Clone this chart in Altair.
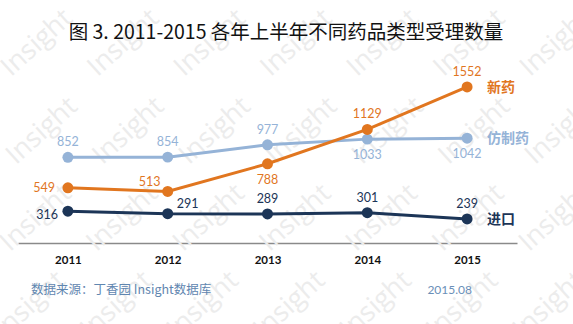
import altair as alt
import pandas as pd

# --- data -----------------------------------------------------------------
years = ["2011", "2012", "2013", "2014", "2015"]
generic = [852, 854, 977, 1033, 1042]      # 仿制药
new_drug = [549, 513, 788, 1129, 1552]     # 新药
imported = [316, 291, 289, 301, 239]       # 进口

series_names = ["仿制药", "新药", "进口"]
series_values = [generic, new_drug, imported]
series_colors = ["#95B3D7", "#E1761F", "#1C3557"]
label_colors = ["#8EADD3", "#D6772A", "#23344F"]

# where each value label sits relative to its point
label_side = [
    ["above", "above", "above", "below", "below"],
    ["left", "upleft", "below", "above", "above"],
    ["leftdown", "upright", "above", "above", "above"],
]

title_text = "图 3. 2011-2015 各年上半年不同药品类型受理数量"
source_text = "数据来源：丁香园 Insight数据库"
date_text = "2015.08"

rows = []
for name, vals, sides in zip(series_names, series_values, label_side):
    for yr, v, s in zip(years, vals, sides):
        rows.append({"year": yr, "value": v, "series": name, "side": s})
df = pd.DataFrame(rows)
last = df[df["year"] == years[-1]]

W, H = 499, 181
CJK = "Noto Sans CJK SC"
NUM = "Lato"

x_enc = alt.X("year:N", scale=alt.Scale(type="point", padding=0.5),
              axis=alt.Axis(title=None, ticks=False, domainColor="#8a8a8a",
                            domainWidth=1.5, labelFontSize=11.5, labelFont=NUM,
                            labelFontWeight="bold", labelColor="#111111",
                            labelPadding=11, labelAngle=0))
y_enc = alt.Y("value:Q", scale=alt.Scale(domain=[0, 1800]), axis=None)
color_enc = alt.Color("series:N", scale=alt.Scale(domain=series_names, range=series_colors),
                      legend=None)
label_color = alt.Color("series:N", scale=alt.Scale(domain=series_names, range=label_colors),
                        legend=None)

base = alt.Chart(df)

# faint repeating watermark
wm = pd.DataFrame(
    [{"px": x0 + 86.5 * i - 18 + r * 2, "py": y0 - 62, "t": "Insight"}
     for r, (x0, y0) in enumerate([(37, 43), (40, 131), (32, 218), (24, 305)])
     for i in range(7)]
)
watermark = alt.Chart(wm).mark_text(
    font="Open Sans", fontSize=27, angle=318, color="#ececec"
).encode(
    x=alt.X("px:Q", scale=None, axis=None),
    y=alt.Y("py:Q", scale=None, axis=None),
    text="t:N",
)

lines = base.mark_line(strokeWidth=3).encode(x=x_enc, y=y_enc, color=color_enc,
                                                detail="series:N")
points = base.mark_circle(size=120, opacity=1).encode(x=x_enc, y=y_enc, color=color_enc)

offsets = {
    "above": dict(dx=0, dy=-15, align="center"),
    "below": dict(dx=0, dy=16, align="center"),
    "left": dict(dx=-13, dy=0, align="right"),
    "upleft": dict(dx=-18, dy=-9, align="center"),
    "upright": dict(dx=20, dy=-10, align="center"),
    "leftdown": dict(dx=-10, dy=4, align="right"),
}
label_layers = []
for side, opts in offsets.items():
    label_layers.append(
        base.transform_filter(alt.datum.side == side).mark_text(
            font=NUM, fontSize=12.5, baseline="middle", **opts
        ).encode(x=x_enc, y=y_enc, text="value:Q", color=label_color)
    )

names = alt.Chart(last).mark_text(
    font=CJK, fontSize=14, fontWeight="bold", align="left", baseline="middle", dx=20, dy=1
).encode(x=x_enc, y=y_enc, text="series:N", color=label_color)

title = alt.Chart(pd.DataFrame({"t": [title_text]})).mark_text(
    font=CJK, fontSize=19.5, color="#111111", align="center", baseline="middle"
).encode(x=alt.value(268), y=alt.value(-29), text="t:N")

source = alt.Chart(pd.DataFrame({"t": [source_text]})).mark_text(
    font=CJK, fontSize=12.5, color="#5F86B0", align="left", baseline="middle"
).encode(x=alt.value(13), y=alt.value(228), text="t:N")

date = alt.Chart(pd.DataFrame({"t": [date_text]})).mark_text(
    font=NUM, fontSize=12, color="#6A8FB8", align="right", baseline="middle"
).encode(x=alt.value(454), y=alt.value(228), text="t:N")

main = alt.layer(lines, points, *label_layers, names)

chart = alt.layer(watermark, main, title, source, date).resolve_scale(
    x="independent", y="independent"
).properties(
    width=W, height=H,
    autosize=alt.AutoSizeParams(type="none"),
    padding={"left": 18, "top": 62, "right": 56, "bottom": 81},
    background="white",
).configure_view(stroke=None)

chart.save("out.html", embed_options={"renderer": "svg", "actions": False})
